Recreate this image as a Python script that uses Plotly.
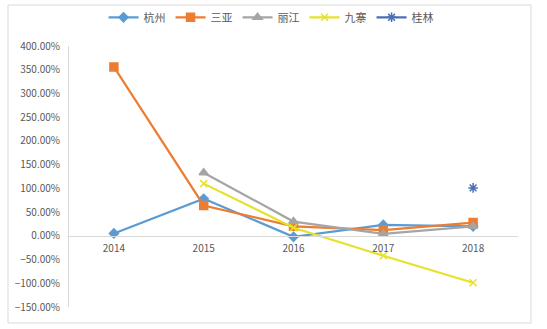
import plotly.graph_objects as go

years = ["2014", "2015", "2016", "2017", "2018"]
hangzhou = [0.05, 0.78, -0.02, 0.23, 0.20]
sanya = [3.56, 0.64, 0.20, 0.12, 0.28]
lijiang = [None, 1.33, 0.30, 0.04, 0.20]
jiuzhai = [None, 1.10, 0.17, -0.42, -0.99]
guilin = [None, None, None, None, 1.01]

series = [
    ("杭州", hangzhou, "#5b9bd5", "diamond", 7),
    ("三亚", sanya, "#ed7d31", "square", 8),
    ("丽江", lijiang, "#a5a5a5", "triangle-up", 8),
    ("九寨", jiuzhai, "#e6e22a", "x-thin-open", 7),
    ("桂林", guilin, "#4a6fb5", "asterisk-open", 8),
]

fig = go.Figure()
for name, vals, color, sym, size in series:
    fig.add_trace(go.Scatter(
        x=years, y=vals, name=name, mode="lines+markers",
        line=dict(color=color, width=2.2),
        marker=dict(symbol=sym, size=size, color=color,
                    line=dict(color=color, width=1.5)),
        connectgaps=False,
    ))

ymin, ymax = -1.5, 4.0
fig.update_layout(
    width=547, height=329,
    margin=dict(l=69, r=29, t=46, b=22, autoexpand=False),
    paper_bgcolor="white", plot_bgcolor="white",
    font=dict(family="Noto Sans CJK SC, Noto Sans, sans-serif", color="#595959", size=10),
    legend=dict(orientation="h", x=0.45, xanchor="center", y=1.11, yanchor="middle",
                font=dict(size=11, color="#595959"), bgcolor="rgba(0,0,0,0)",
                itemwidth=30, tracegroupgap=0),
    showlegend=True,
    xaxis=dict(type="category", range=[-0.5, 4.5], anchor="free",
               position=(0 - ymin) / (ymax - ymin),
               showline=True, linecolor="#d9d9d9", linewidth=1,
               showgrid=False, ticks="", tickfont=dict(size=10, color="#595959"),
               ticklabelstandoff=3, zeroline=False),
    yaxis=dict(range=[ymin, ymax], dtick=0.5, tickformat=".2%",
               showline=True, linecolor="#d9d9d9", linewidth=1,
               showgrid=False, zeroline=False, ticks="",
               ticklabelstandoff=6,
               tickfont=dict(size=10, color="#595959")),
    shapes=[dict(type="rect", xref="paper", yref="paper",
                 x0=-61/449, x1=(531-69)/449, y0=-(323-307)/261, y1=(307-5)/261,
                 line=dict(color="#d9d9d9", width=1), layer="below")],
)

fig.write_html("out.html")
